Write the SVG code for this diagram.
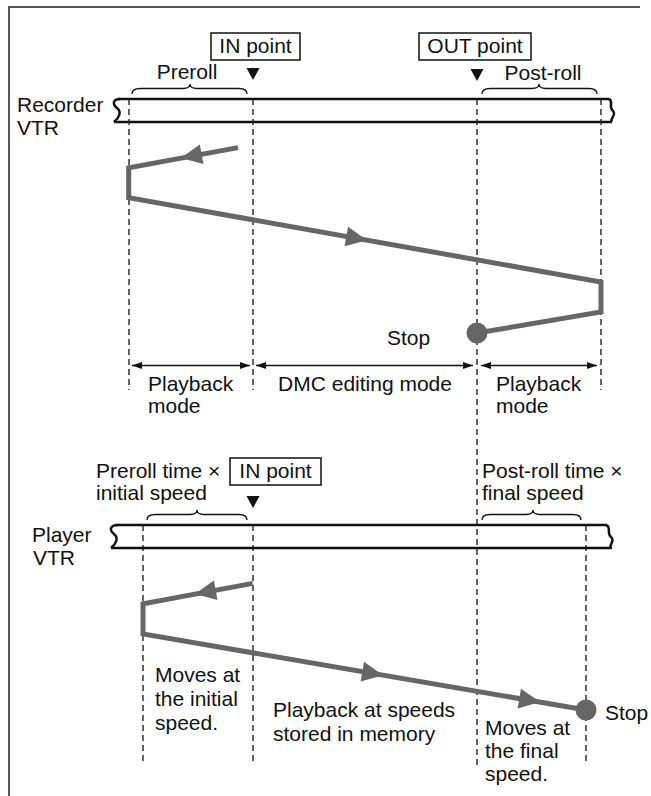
<svg xmlns="http://www.w3.org/2000/svg" xmlns:xlink="http://www.w3.org/1999/xlink" width="651" height="796" viewBox="0 0 651 796">
<style>
.t{font-family:"Liberation Sans",Arial,Helvetica,sans-serif;font-size:21px;fill:#111}
.m{text-anchor:middle}
.box{fill:#fff;stroke:#111;stroke-width:1.5}
.tape{fill:none;stroke:#111;stroke-width:2.5}
.dash{fill:none;stroke:#222;stroke-width:1.4;stroke-dasharray:6 4}
.brace{fill:none;stroke:#111;stroke-width:1.3}
.path{fill:none;stroke:#666;stroke-width:5;stroke-linejoin:miter}
.dim{fill:none;stroke:#111;stroke-width:1.4}
.tri{fill:#111}
</style>
<defs>
<marker id="da" viewBox="0 0 10 7" refX="10" refY="3.5" markerWidth="10" markerHeight="7" markerUnits="userSpaceOnUse" orient="auto-start-reverse"><path d="M0 0 L10 3.5 L0 7 Z" fill="#111"/></marker>
<path id="ah" d="M0 0 L-21 -10 L-21 10 Z" fill="#666"/>
<path id="pt" d="M-6.5 0 L6.5 0 L0 12 Z"/>
</defs>

<path id="frame" d="M9 796 V7 H640" fill="none" stroke="#555" stroke-width="2"/>

<g id="recorder-vtr">
<text class="t" x="17" y="112">Recorder</text>
<text class="t" x="17" y="135">VTR</text>
<path class="tape" d="M118 99 H609 M114 122 H612"/>
<path class="tape" d="M120 99 C113 99 112 104 117 108 C122 112 119 118 114 122"/>
<path class="tape" d="M609 99 C614 101 608 107 613 111 C617 115 609 119 612 122"/>
</g>

<g id="guides">
<path class="dash" d="M129 99 V390 M253 99 V390 M601 99 V390 M477 99 V765 M143 525 V765 M253 525 V765 M586 525 V765"/>
</g>

<g id="in-point-rec">
<rect class="box" x="211" y="33" width="89" height="27"/>
<text class="t m" x="255.5" y="53">IN point</text>
<use xlink:href="#pt" class="tri" x="253" y="68"/>
</g>

<g id="out-point-rec">
<rect class="box" x="419" y="33" width="112" height="27"/>
<text class="t m" x="475" y="53">OUT point</text>
<use xlink:href="#pt" class="tri" x="477" y="69"/>
</g>

<g id="preroll-rec">
<text class="t m" x="187" y="79">Preroll</text>
<path class="brace" d="M132 94 Q132 88.5 140 88.5 H183 Q190 88.5 190 84 Q190 88.5 197 88.5 H239 Q247 88.5 247 94"/>
</g>

<g id="postroll-rec">
<text class="t m" x="543" y="80">Post-roll</text>
<path class="brace" d="M482 94 Q482 88.5 490 88.5 H532 Q539 88.5 539 84 Q539 88.5 546 88.5 H589 Q597 88.5 597 94"/>
</g>

<g id="stop-rec">
<circle cx="477" cy="333" r="10.5" fill="#666"/>
<text class="t" x="387" y="345">Stop</text>
</g>

<g id="modes">
<text class="t" x="148" y="391">Playback</text>
<text class="t" x="148" y="413">mode</text>
<text class="t m" x="365" y="391">DMC editing mode</text>
<text class="t" x="496" y="391">Playback</text>
<text class="t" x="496" y="413">mode</text>
</g>

<g id="player-vtr">
<text class="t" x="32" y="542">Player</text>
<text class="t" x="33" y="565">VTR</text>
<path class="tape" d="M116 525 H607 M111 548 H612"/>
<path class="tape" d="M118 525 C110 525 109 530 114 534 C119 538 116 544 111 548"/>
<path class="tape" d="M606 525 C612 527 606 533 611 537 C616 541 608 545 611 548"/>
</g>

<g id="in-point-play">
<rect class="box" x="230" y="458" width="91" height="27"/>
<text class="t m" x="275.5" y="478">IN point</text>
<use xlink:href="#pt" class="tri" x="253" y="496"/>
</g>

<g id="preroll-play">
<text class="t" x="96" y="478">Preroll time ×</text>
<text class="t" x="96" y="500">initial speed</text>
<path class="brace" d="M147 520 Q147 514.5 155 514.5 H190 Q197 514.5 197 510 Q197 514.5 204 514.5 H239 Q247 514.5 247 520"/>
</g>

<g id="postroll-play">
<text class="t" x="482" y="478">Post-roll time ×</text>
<text class="t" x="482" y="500">final speed</text>
<path class="brace" d="M482 520 Q482 514.5 490 514.5 H526 Q533 514.5 533 510 Q533 514.5 540 514.5 H573 Q581 514.5 581 520"/>
</g>

<g id="stop-play">
<circle cx="586" cy="710" r="10.5" fill="#666"/>
<text class="t" x="605" y="720">Stop</text>
</g>

<g id="play-notes">
<text class="t" x="155" y="682">Moves at</text>
<text class="t" x="155" y="706">the initial</text>
<text class="t" x="155" y="730">speed.</text>
<text class="t" x="273" y="717">Playback at speeds</text>
<text class="t" x="273" y="741">stored in memory</text>
<text class="t" x="485" y="735">Moves at</text>
<text class="t" x="485" y="758">the final</text>
<text class="t" x="485" y="781">speed.</text>
</g>

<g id="connectors">
<path class="path" d="M238 147.6 L128.7 167.8 L128.7 197.6 L601 282 L601 312 L477 333"/>
<use xlink:href="#ah" transform="translate(181 158.1) rotate(169.5)"/>
<use xlink:href="#ah" transform="translate(367 240.2) rotate(10.13)"/>
<path class="path" d="M252.7 583.4 L143 603.8 L143 634 L586 710"/>
<use xlink:href="#ah" transform="translate(195 594.1) rotate(169.5)"/>
<use xlink:href="#ah" transform="translate(383 675.2) rotate(9.73)"/>
<use xlink:href="#ah" transform="translate(540 702.1) rotate(9.73)"/>
<path class="dim" d="M132 365.5 H250" marker-start="url(#da)" marker-end="url(#da)"/>
<path class="dim" d="M256 365.5 H473" marker-start="url(#da)" marker-end="url(#da)"/>
<path class="dim" d="M481 365.5 H597" marker-start="url(#da)" marker-end="url(#da)"/>
</g>
</svg>
